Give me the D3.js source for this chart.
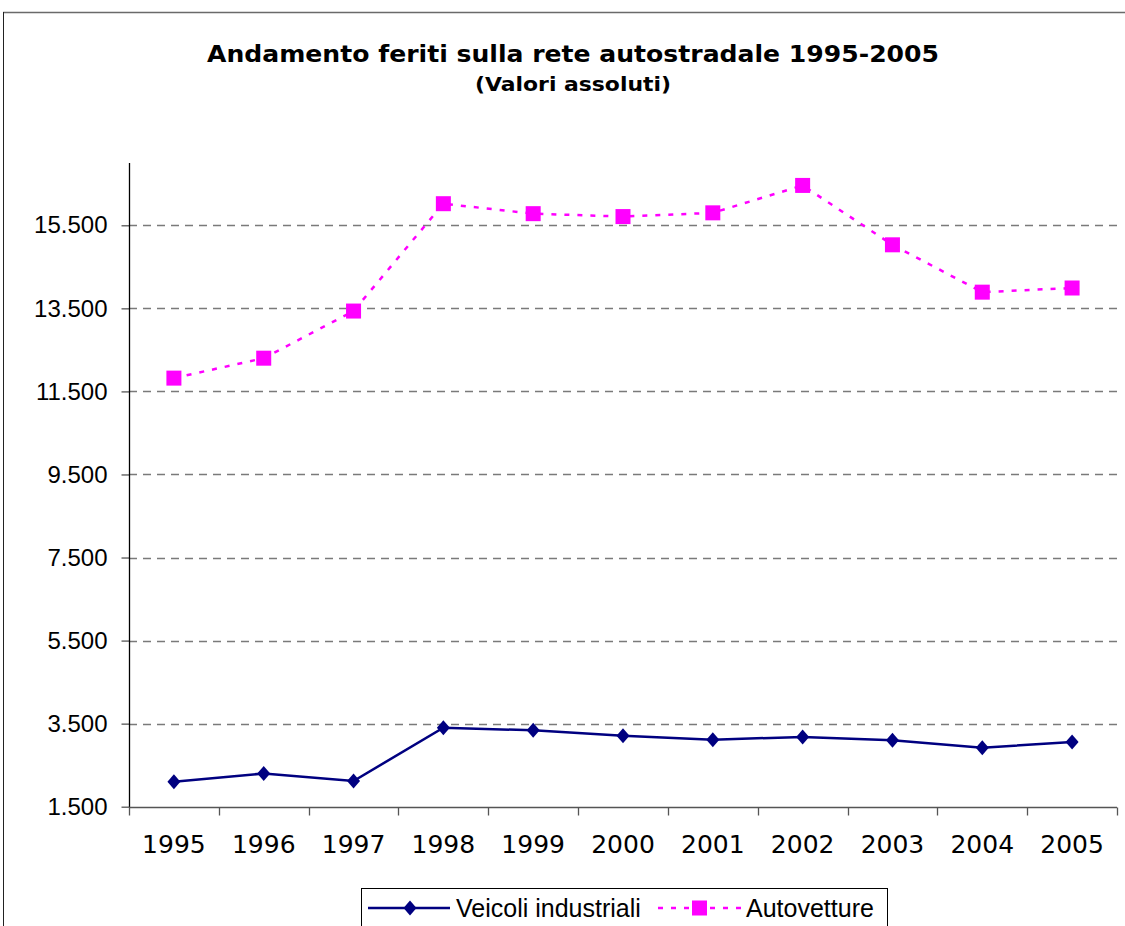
<!DOCTYPE html>
<html>
<head>
<meta charset="utf-8">
<script src="https://cdn.jsdelivr.net/npm/d3@7"></script>
<style>
  body { margin: 0; background: #fff; }
  svg { display: block; }
</style>
</head>
<body>
<div class="graph"></div>
<script>
// Feriti sulla rete autostradale, valori assoluti
var anni = ["1995", "1996", "1997", "1998", "1999", "2000", "2001", "2002", "2003", "2004", "2005"];
var veicoli_industriali = [2100, 2300, 2120, 3400, 3340, 3210, 3115, 3180, 3100, 2920, 3060];
var autovetture = [11820, 12300, 13435, 16020, 15780, 15710, 15800, 16460, 15030, 13890, 13990];
var y_ticks = [1500, 3500, 5500, 7500, 9500, 11500, 13500, 15500];
var serie_nomi = ["Veicoli industriali", "Autovetture"];

var width = 1125, height = 926;

var svg = d3.select('.graph').append('svg')
    .attr('width', width)
    .attr('height', height);

// cornice del grafico (tagliata a destra e in basso)
svg.append('line')
    .attr('x1', 3).attr('x2', width).attr('y1', 12.5).attr('y2', 12.5)
    .style('stroke', '#6a6a6a').style('stroke-width', 1.5);
svg.append('line')
    .attr('x1', 3.5).attr('x2', 3.5).attr('y1', 12).attr('y2', height)
    .style('stroke', '#222').style('stroke-width', 1);

// titolo
svg.append('text')
    .attr('x', 573).attr('y', 62)
    .attr('text-anchor', 'middle')
    .attr('textLength', 732)
    .attr('lengthAdjust', 'spacingAndGlyphs')
    .style('font-family', '"DejaVu Sans", Verdana, sans-serif')
    .style('font-weight', 'bold')
    .style('font-size', '23px')
    .text('Andamento feriti sulla rete autostradale 1995-2005');
svg.append('text')
    .attr('x', 573).attr('y', 91)
    .attr('text-anchor', 'middle')
    .attr('textLength', 196)
    .attr('lengthAdjust', 'spacingAndGlyphs')
    .style('font-family', '"DejaVu Sans", Verdana, sans-serif')
    .style('font-weight', 'bold')
    .style('font-size', '19px')
    .text('(Valori assoluti)');

// scale
var xScale = d3.scaleBand().domain(anni).range([129, 1117]);
var yScale = d3.scaleLinear().domain([1500, 17000]).range([806.7, 163]);

var fmt = function(v) { return d3.format(',')(v).replace(/,/g, '.'); };

// griglia orizzontale tratteggiata
svg.append('g')
    .selectAll('line')
    .data(y_ticks.slice(1))
    .enter()
    .append('line')
    .attr('x1', 129).attr('x2', 1117)
    .attr('y1', function(d) { return Math.round(yScale(d)) + 0.5; })
    .attr('y2', function(d) { return Math.round(yScale(d)) + 0.5; })
    .style('stroke', '#7a7a7a')
    .style('stroke-width', 1.5)
    .style('stroke-dasharray', '8,6');

// asse y
var yAxis = svg.append('g')
    .attr('transform', 'translate(129.5,0)')
    .call(d3.axisLeft(yScale).tickValues(y_ticks).tickSize(8).tickSizeOuter(0).tickPadding(14).tickFormat(fmt));
yAxis.select('.domain').remove();
yAxis.append('line')
    .attr('x1', 0).attr('x2', 0).attr('y1', 163).attr('y2', 807)
    .style('stroke', '#000').style('stroke-width', 1.3);
yAxis.selectAll('.tick line').style('stroke', '#555').style('stroke-width', 1.3);
yAxis.selectAll('text')
    .style('font-family', '"Liberation Sans", Arial, sans-serif')
    .style('font-size', '24px')
    .style('fill', '#000');

// asse x
var xAxis = svg.append('g')
    .attr('transform', 'translate(0,807.5)')
    .call(d3.axisBottom(xScale).tickSize(0).tickPadding(0));
xAxis.select('.domain').remove();
xAxis.append('line')
    .attr('x1', 129).attr('x2', 1117).attr('y1', 0).attr('y2', 0)
    .style('stroke', '#555').style('stroke-width', 1.5);
xAxis.selectAll('.confine')
    .data(d3.range(anni.length + 1))
    .enter()
    .append('line')
    .attr('x1', function(i) { return Math.round(129 + i * xScale.step()) + 0.5; })
    .attr('x2', function(i) { return Math.round(129 + i * xScale.step()) + 0.5; })
    .attr('y1', 0).attr('y2', 8)
    .style('stroke', '#555').style('stroke-width', 1.3);
xAxis.selectAll('.tick text')
    .attr('y', 45)
    .attr('dy', 0)
    .style('font-family', '"DejaVu Sans", Verdana, sans-serif')
    .style('font-size', '25px')
    .style('fill', '#000');

var cx = function(d, i) { return xScale(anni[i]) + xScale.bandwidth() / 2; };

// linee
var linea = d3.line()
    .x(function(d, i) { return cx(d, i); })
    .y(function(d) { return yScale(d); });

svg.append('path')
    .datum(autovetture)
    .attr('d', linea)
    .style('fill', 'none')
    .style('stroke', '#ff00ff')
    .style('stroke-width', 2.5)
    .style('stroke-dasharray', '5,8');

svg.append('path')
    .datum(veicoli_industriali)
    .attr('d', linea)
    .style('fill', 'none')
    .style('stroke', '#000080')
    .style('stroke-width', 2.5);

// marcatori
svg.append('g')
    .selectAll('rect')
    .data(autovetture)
    .enter()
    .append('rect')
    .attr('x', function(d, i) { return cx(d, i) - 7.5; })
    .attr('y', function(d) { return yScale(d) - 7.5; })
    .attr('width', 15).attr('height', 15)
    .style('fill', '#ff00ff');

var diamante = function(x, y) {
    return 'M' + x + ',' + (y - 7.5) + 'L' + (x + 6.5) + ',' + y + 'L' + x + ',' + (y + 7.5) + 'L' + (x - 6.5) + ',' + y + 'Z';
};

svg.append('g')
    .selectAll('path')
    .data(veicoli_industriali)
    .enter()
    .append('path')
    .attr('d', function(d, i) { return diamante(cx(d, i), yScale(d)); })
    .style('fill', '#000080');

// legenda
var legenda = svg.append('g');
legenda.append('rect')
    .attr('x', 361.5).attr('y', 888.5)
    .attr('width', 526).attr('height', 60)
    .style('fill', '#fff')
    .style('stroke', '#000')
    .style('stroke-width', 1);

legenda.append('line')
    .attr('x1', 368).attr('x2', 450).attr('y1', 908).attr('y2', 908)
    .style('stroke', '#000080').style('stroke-width', 2.5);
legenda.append('path')
    .attr('d', diamante(410, 908))
    .style('fill', '#000080');
legenda.append('text')
    .attr('x', 456).attr('y', 917)
    .style('font-family', '"Liberation Sans", Arial, sans-serif')
    .style('font-size', '25px')
    .text(serie_nomi[0]);

legenda.append('line')
    .attr('x1', 658).attr('x2', 741).attr('y1', 908).attr('y2', 908)
    .style('stroke', '#ff00ff').style('stroke-width', 2.5)
    .style('stroke-dasharray', '5,8');
legenda.append('rect')
    .attr('x', 692).attr('y', 900.5)
    .attr('width', 15).attr('height', 15)
    .style('fill', '#ff00ff');
legenda.append('text')
    .attr('x', 746).attr('y', 917)
    .style('font-family', '"Liberation Sans", Arial, sans-serif')
    .style('font-size', '25px')
    .text(serie_nomi[1]);
</script>
</body>
</html>
